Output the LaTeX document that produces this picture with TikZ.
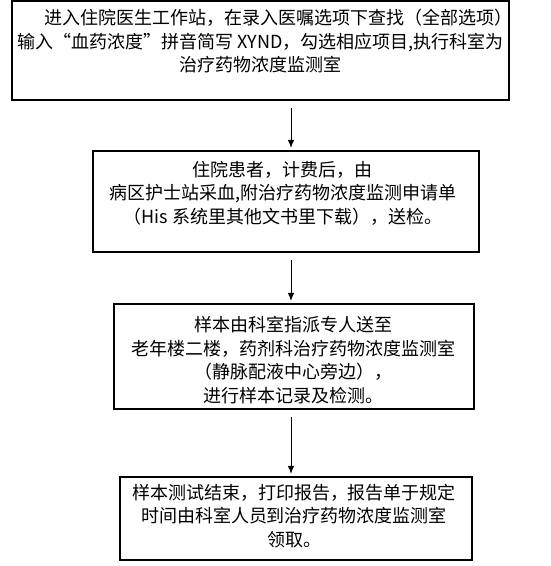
\documentclass[tikz,border=0pt]{standalone}
\usepackage{fontspec}
\newfontfamily\cjk{Noto Sans CJK SC}
\usetikzlibrary{arrows.meta,calc}
\begin{document}
\begin{tikzpicture}
[
x=1pt, y=-1pt,
style0/.style={rectangle, draw, line width=1.2pt, fill=white, inner sep=0pt},
style1/.style={draw=none, align=center, inner sep=0pt, font=\cjk\fontsize{18}{23.5}\selectfont},
style2/.style={line width=0.9pt, -{Latex[length=8pt,width=6.5pt]}, shorten <=7pt, shorten >=2.5pt}
]
\useasboundingbox (0,0) rectangle (550,566);
\coordinate (ax) at (291,0);
% boxes
\node (B1) [style0, minimum width=497pt, minimum height=99pt] at (260.5,50.5) {};
\node (B2) [style0, minimum width=386pt, minimum height=101pt] at (286,201.5) {};
\node (B3) [style0, minimum width=360pt, minimum height=105pt] at (294,356.5) {};
\node (B4) [style0, minimum width=352pt, minimum height=83pt] at (296,518.5) {};
% texts
\node (T1) [style1] at (260.5,41.5) {\hspace*{2em}进入住院医生工作站，在录入医嘱选项下查找（全部选项）\\
输入“血药浓度”拼音简写 XYND，勾选相应项目,执行科室为\\
治疗药物浓度监测室};
\node (T2) [style1] at (283,193) {住院患者，计费后，由\\
病区护士站采血,附治疗药物浓度监测申请单\\
（His 系统里其他文书里下载），送检。};
\node (T3) [style1] at (293.5,360) {样本由科室指派专人送至\\
老年楼二楼，药剂科治疗药物浓度监测室\\
（静脉配液中心旁边），\\
进行样本记录及检测。};
\node (T4) [style1] at (294,516) {样本测试结束，打印报告，报告单于规定\\
时间由科室人员到治疗药物浓度监测室\\
领取。};
% arrows
\draw [style2] (B1.south -| ax) -- (B2.north -| ax);
\draw [style2] (B2.south -| ax) -- (B3.north -| ax);
\draw [style2] (B3.south -| ax) -- (B4.north -| ax);
\end{tikzpicture}
\end{document}
